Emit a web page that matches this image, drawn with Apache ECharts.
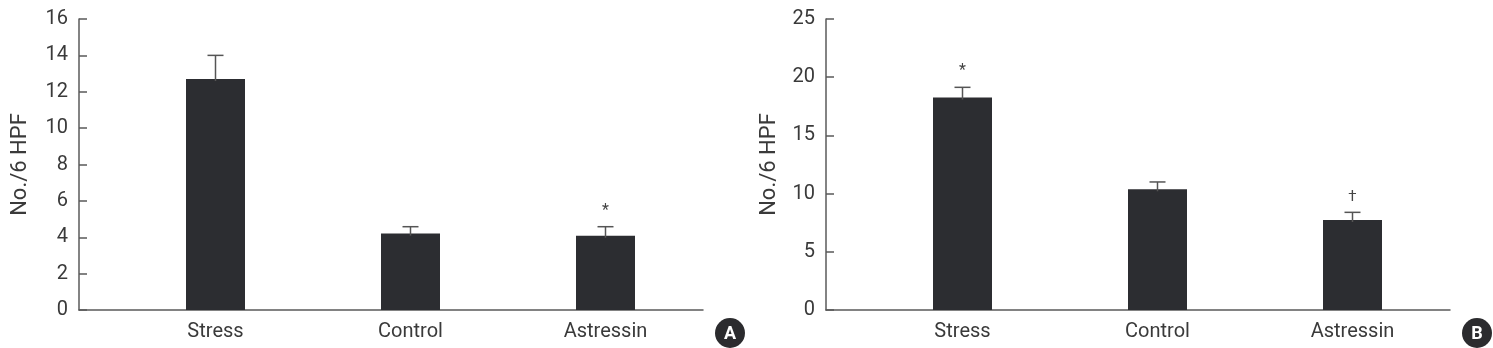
<!DOCTYPE html>
<html>
<head>
<meta charset="utf-8">
<script src="https://cdn.jsdelivr.net/npm/echarts@6/dist/echarts.min.js"></script>
<style>
html,body{margin:0;padding:0;background:#fff;}
#c{width:1493px;height:348px;}
</style>
</head>
<body>
<div id="c"></div>
<script>
// ---- data ----
const categories = ['Stress', 'Control', 'Astressin'];
const meansA = [12.7, 4.2, 4.08];
const errTopA = [14.0, 4.58, 4.58];
const marksA = ['', '', '*'];
const meansB = [18.25, 10.37, 7.73];
const errTopB = [19.13, 11.0, 8.39];
const marksB = ['*', '', '\u2020'];
const yTicksA = {min: 0, max: 16, interval: 2};
const yTicksB = {min: 0, max: 25, interval: 5};
const panelLabels = ['A', 'B'];

const FONT = "Roboto, 'Liberation Sans', sans-serif";
const TXT = '#3a3a3a';
const AX = '#5a5a5a';
const BAR = '#2c2d31';

function barData(means){ return means.map((v,i)=>[i+1, v]); }
function errData(means, tops){ return means.map((v,i)=>[i+1, v, tops[i]]); }

function errSeries(idx, marks, tops, means){
  return {
    type: 'custom', xAxisIndex: idx, yAxisIndex: idx, z: 5,
    data: errData(means, tops),
    renderItem: function(params, api){
      const x = api.value(0);
      const p0 = api.coord([x, api.value(1)]);
      const p1 = api.coord([x, api.value(2)]);
      const children = [
        {type:'line', shape:{x1:p0[0], y1:p0[1]+2, x2:p1[0], y2:p1[1]}, style:{stroke:'#555', lineWidth:1.5}},
        {type:'line', shape:{x1:p1[0]-8, y1:p1[1], x2:p1[0]+8, y2:p1[1]}, style:{stroke:'#555', lineWidth:1.5}}
      ];
      const m = marks[params.dataIndex];
      if (m) {
        children.push({type:'text', style:{text:m, x:p1[0], y:p1[1]-(m==='*'?8:8), align:'center', verticalAlign:'bottom', fill:'#444', font: (m==='*'?'16px ':'15px ') + FONT}});
      }
      return {type:'group', children: children};
    }
  };
}

function xAxis(idx){
  return {
    type:'value', gridIndex: idx, min: 0.3, max: 3.5,
    axisLine:{show:true, onZero:false, lineStyle:{color:AX, width:1.5}},
    axisTick:{show:false},
    splitLine:{show:false},
    axisLabel:{customValues:[1,2,3], formatter: v => categories[Math.round(v)-1] || '', color:TXT, fontSize:20, fontFamily:FONT, margin:12}
  };
}
function yAxis(idx, t){
  return {
    type:'value', gridIndex: idx, min:t.min, max:t.max, interval:t.interval,
    name:'No./6 HPF', nameLocation:'middle', nameGap: idx===0?48:46,
    nameTextStyle:{color:TXT, fontSize:22, fontFamily:FONT},
    axisLine:{show:true, onZero:false, lineStyle:{color:AX, width:1.5}},
    axisTick:{show:true, inside:true, length:8, lineStyle:{color:AX, width:1.5}},
    splitLine:{show:false},
    axisLabel:{color:TXT, fontSize:20, fontFamily:FONT, margin:11}
  };
}

const chart = echarts.init(document.getElementById('c'), null, {renderer:'canvas'});
chart.setOption({
  animation:false,
  backgroundColor:'#fff',
  grid:[
    {left:79, right:1493-703, top:19, bottom:348-310},
    {left:826, right:1493-1450, top:19, bottom:348-310}
  ],
  xAxis:[xAxis(0), xAxis(1)],
  yAxis:[yAxis(0, yTicksA), yAxis(1, yTicksB)],
  series:[
    {type:'bar', xAxisIndex:0, yAxisIndex:0, data:barData(meansA), barWidth:59, itemStyle:{color:BAR}},
    {type:'bar', xAxisIndex:1, yAxisIndex:1, data:barData(meansB), barWidth:59, itemStyle:{color:BAR}},
    errSeries(0, marksA, errTopA, meansA),
    errSeries(1, marksB, errTopB, meansB)
  ],
  graphic:[
    {type:'group', left:715, top:318, children:[
      {type:'circle', shape:{cx:15, cy:15, r:15}, style:{fill:'#2b2b2e'}},
      {type:'text', style:{text:panelLabels[0], x:15, y:16, align:'center', verticalAlign:'middle', fill:'#fff', font:'bold 18px Roboto, sans-serif'}}
    ]},
    {type:'group', left:1462, top:318, children:[
      {type:'circle', shape:{cx:15, cy:15, r:15}, style:{fill:'#2b2b2e'}},
      {type:'text', style:{text:panelLabels[1], x:15, y:16, align:'center', verticalAlign:'middle', fill:'#fff', font:'bold 18px Roboto, sans-serif'}}
    ]}
  ]
});
</script>
</body>
</html>
